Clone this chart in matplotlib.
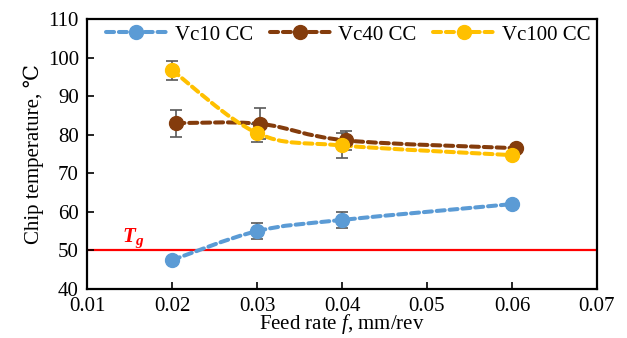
import matplotlib
matplotlib.use('Agg')
import matplotlib.pyplot as plt
from matplotlib.path import Path
from matplotlib.patches import PathPatch
from matplotlib.lines import Line2D

plt.rcParams['font.family'] = ['Liberation Serif', 'DejaVu Serif']
plt.rcParams['mathtext.fontset'] = 'custom'
plt.rcParams['mathtext.it'] = 'Liberation Serif:italic'

# data
labels = ['Vc10 CC', 'Vc40 CC', 'Vc100 CC']
colors = ['#5B9BD5', '#843C0C', '#FFC000']

feed_vc10 = [0.02, 0.03, 0.04, 0.06]
temp_vc10 = [47.5, 55.0, 57.9, 62.0]
err_vc10 = [0.0, 2.0, 2.0, 0.0]

feed_vc40 = [0.0205, 0.0304, 0.0405, 0.0605]
temp_vc40 = [83.0, 82.8, 78.5, 76.5]
err_vc40 = [3.5, 4.0, 2.5, 0.0]

feed_vc100 = [0.02, 0.03, 0.04, 0.06]
temp_vc100 = [96.7, 80.4, 77.2, 74.7]
err_vc100 = [2.5, 2.3, 3.2, 0.0]

tg = 50

xticks = [0.01, 0.02, 0.03, 0.04, 0.05, 0.06, 0.07]
yticks = [40, 50, 60, 70, 80, 90, 100, 110]


def smooth_path(xs, ys):
    # Excel-style smoothed line: cubic bezier through the points
    pts = list(zip(xs, ys))
    verts = [pts[0]]
    codes = [Path.MOVETO]
    n = len(pts)
    for i in range(n - 1):
        p0 = pts[max(i - 1, 0)]
        p1 = pts[i]
        p2 = pts[i + 1]
        p3 = pts[min(i + 2, n - 1)]
        c1 = (p1[0] + (p2[0] - p0[0]) / 6, p1[1] + (p2[1] - p0[1]) / 6)
        c2 = (p2[0] - (p3[0] - p1[0]) / 6, p2[1] - (p3[1] - p1[1]) / 6)
        verts += [c1, c2, p2]
        codes += [Path.CURVE4] * 3
    return Path(verts, codes)


fig = plt.figure(figsize=(6.27, 3.38), dpi=100)
ax = fig.add_axes([0.139, 0.145, 0.813, 0.799])

series = [(feed_vc10, temp_vc10, err_vc10),
          (feed_vc40, temp_vc40, err_vc40),
          (feed_vc100, temp_vc100, err_vc100)]

ax.axhline(tg, color='#FF0000', lw=1.6, zorder=1)
ax.text(0.0149, tg + 1.0, 'T', color='#FF0000', fontsize=15,
        fontweight='bold', fontstyle='italic', ha='center', va='bottom')
ax.text(0.0157, tg + 0.6, 'g', color='#FF0000', fontsize=11,
        fontweight='bold', fontstyle='italic', ha='left', va='bottom')

dash = (0, (2.0, 1.2))
handles = []
for (xs, ys, es), c, lab in zip(series, colors, labels):
    patch = PathPatch(smooth_path(xs, ys), fill=False, edgecolor=c, lw=2.9,
                      linestyle=dash, capstyle='round', zorder=2)
    ax.add_patch(patch)
    ax.errorbar(xs, ys, yerr=es, fmt='none', ecolor='#595959', elinewidth=1.2,
                capsize=4, capthick=1.2, zorder=3)
    ax.plot(xs, ys, ls='none', marker='o', ms=10, color=c, zorder=4)
    handles.append(Line2D([], [], color=c, lw=2.9, ls=dash,
                          marker='o', ms=10, dash_capstyle='round'))

ax.set_xlim(0.01, 0.07)
ax.set_ylim(40, 110)
ax.set_xticks(xticks)
ax.set_xticklabels(['%.2f' % v for v in xticks])
ax.set_yticks(yticks)
ax.tick_params(direction='in', length=5, width=1.2, labelsize=15, pad=6)
for s in ax.spines.values():
    s.set_linewidth(1.6)

ax.set_xlabel('Feed rate $\\mathit{f}$, mm/rev', fontsize=15, labelpad=-3)
ax.set_ylabel('Chip temperature, ℃', fontsize=15, labelpad=3)

ax.legend(handles, labels, loc='upper right', ncol=3, frameon=False,
          fontsize=15, handlelength=2.9, columnspacing=0.8, handletextpad=0.4,
          borderpad=0.2, borderaxespad=0.1, bbox_to_anchor=(1.0, 1.0))

fig.savefig('out.png', dpi=100)
